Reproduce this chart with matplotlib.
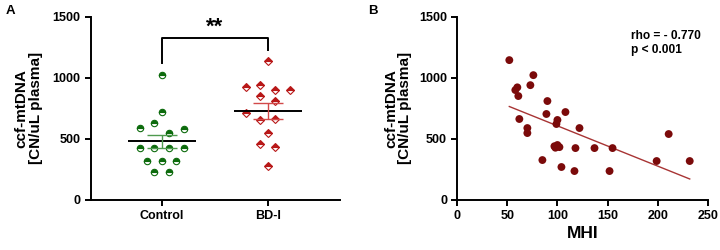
import numpy as np
import matplotlib.pyplot as plt

plt.rcParams['font.family'] = ['Liberation Sans', 'DejaVu Sans']
plt.rcParams['font.weight'] = 'bold'

# Panel A data (ccf-mtDNA, CN/uL plasma)
groups = ['Control', 'BD-I']
control_vals = [1023, 717, 627, 592, 581, 545, 425, 425, 425, 425, 322, 322, 322, 232, 232]
control_slot = [0, 0, -1, -3, 3, 1, -3, -1, 1, 3, -2, 0, 2, -1, 1]
bd_vals = [1140, 922, 941, 900, 900, 851, 813, 709, 654, 663, 545, 455, 436, 278]
bd_slot = [0, -3, -1, 1, 3, -1, 1, -3, -1, 1, 0, -1, 1, 0]

# Panel B data (MHI vs ccf-mtDNA)
mhi = [52, 76, 73, 58, 60, 61, 90, 62, 89, 108, 100, 99, 122, 70, 70,
       98, 100, 102, 97, 118, 137, 155, 85, 104, 117, 152, 211, 199, 232]
mtdna = [1145, 1022, 940, 900, 922, 851, 810, 663, 704, 720, 655, 622, 589, 589, 548,
         428, 450, 433, 440, 425, 425, 425, 327, 270, 237, 237, 540, 319, 319]

green = '#0d6b0d'
red = '#b81818'
maroon = '#7b0a0a'


def style_axes(ax):
    for s in ['top', 'right']:
        ax.spines[s].set_visible(False)
    for s in ['left', 'bottom']:
        ax.spines[s].set_linewidth(1.4)
    ax.tick_params(width=1.4, length=4.3, labelsize=9, pad=3)
    for lab in ax.get_xticklabels() + ax.get_yticklabels():
        lab.set_fontweight('bold')


fig = plt.figure(figsize=(7.2, 2.5), dpi=100)

# ---- Panel A
ax = fig.add_axes([0.126, 0.2, 0.346, 0.733])
step = 0.069
sets = [(control_vals, control_slot, 'o', green, '#4f9a4f', 4.6),
        (bd_vals, bd_slot, 'D', red, '#d24a4a', 4.2)]
for i, (vals, slots, mk, col, semcol, ms) in enumerate(sets):
    xs = i + np.array(slots) * step
    ax.plot(xs, vals, linestyle='none', marker=mk, markersize=ms,
            fillstyle='top', markerfacecolor=col, markerfacecoloralt='white',
            markeredgecolor=col, markeredgewidth=0.8, zorder=3)
    mean = np.mean(vals)
    sem = np.std(vals, ddof=1) / np.sqrt(len(vals))
    ax.hlines(mean, i - 0.32, i + 0.32, color='black', lw=1.4, zorder=4)
    ax.hlines([mean - sem, mean + sem], i - 0.14, i + 0.14, color=semcol, lw=1.0, zorder=4)
    ax.vlines(i, mean - sem, mean + sem, color=semcol, lw=1.0, zorder=4)

# significance bracket
ax.plot([0, 0, 1, 1], [1118, 1323, 1323, 1227], color='black', lw=1.4)
ax.text(0.5, 1330, '**', ha='center', va='bottom', fontsize=16, fontweight='bold')

ax.set_xlim(-0.67, 1.68)
ax.set_ylim(0, 1500)
ax.set_xticks([0, 1])
ax.set_xticklabels(groups)
ax.set_yticks([0, 500, 1000, 1500])
ax.set_ylabel('ccf-mtDNA\n[CN/uL plasma]', fontsize=11, fontweight='bold', labelpad=7,
              linespacing=1.0)
style_axes(ax)
fig.text(0.008, 0.955, 'A', fontsize=9.5, fontweight='bold', va='center')

# ---- Panel B
bx = fig.add_axes([0.635, 0.2, 0.348, 0.733])
bx.scatter(mhi, mtdna, s=32, color=maroon, edgecolors='none', zorder=3)
coef = np.polyfit(mhi, mtdna, 1)
xl = np.array([min(mhi), max(mhi)])
bx.plot(xl, np.polyval(coef, xl), color='#a83434', lw=1.0, zorder=2)
bx.text(173, 1390, 'rho = - 0.770\np < 0.001', fontsize=8.6, fontweight='bold',
        va='top', ha='left', linespacing=1.25)
bx.set_xlim(0, 250)
bx.set_ylim(0, 1500)
bx.set_xticks([0, 50, 100, 150, 200, 250])
bx.set_yticks([0, 500, 1000, 1500])
bx.set_xlabel('MHI', fontsize=12.5, fontweight='bold', labelpad=3)
bx.set_ylabel('ccf-mtDNA\n[CN/uL plasma]', fontsize=11, fontweight='bold', labelpad=5,
              linespacing=1.0)
style_axes(bx)
fig.text(0.511, 0.955, 'B', fontsize=9.5, fontweight='bold', va='center')

fig.savefig('out.png', dpi=100)
